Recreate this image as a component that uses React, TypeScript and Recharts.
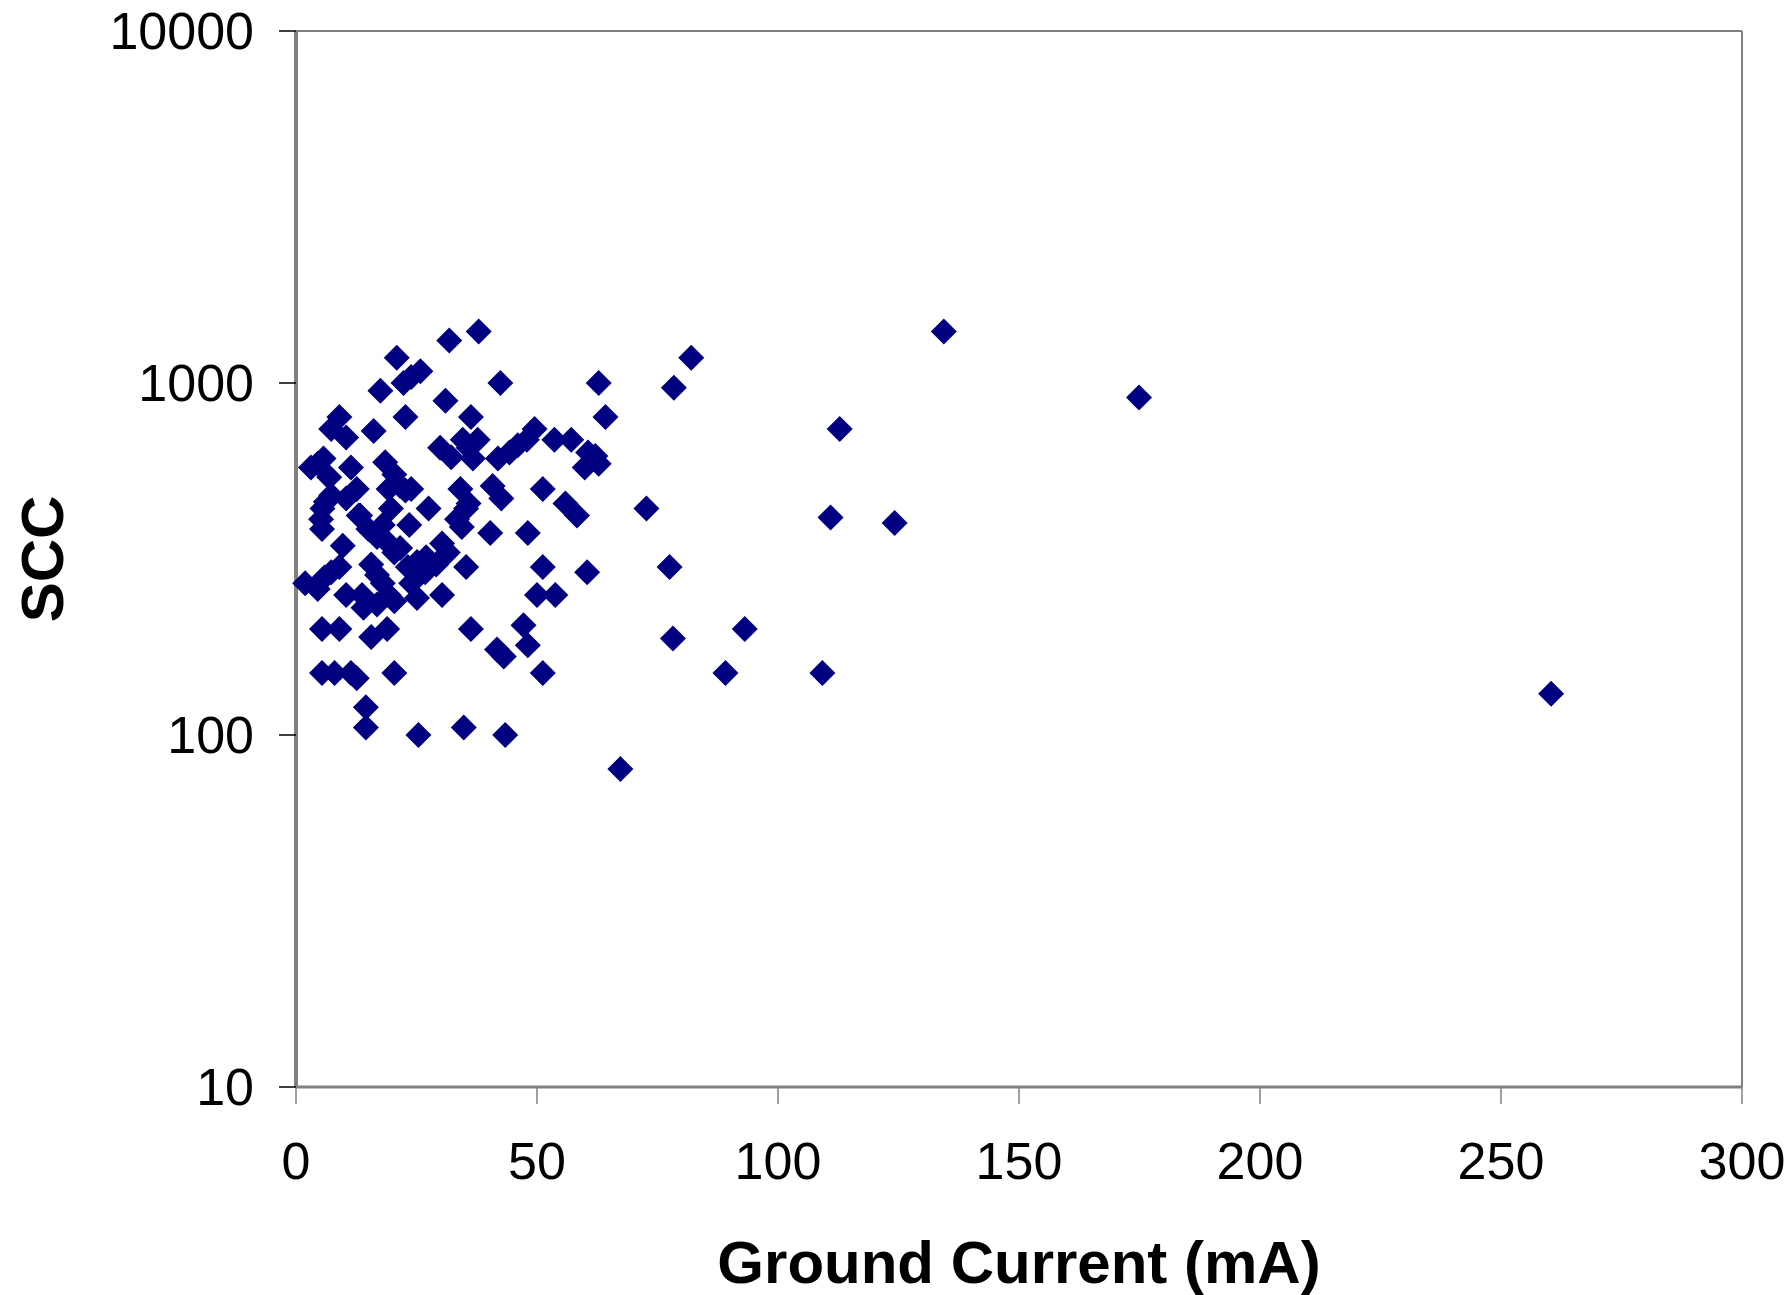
import React from "react";
import {
  ScatterChart,
  Scatter,
  XAxis,
  YAxis,
  ReferenceLine,
} from "recharts";

// ground current (mA) and SCC for each sample
const groundCurrent = [
  1.9, 3.1, 4.5, 5.7, 6.9, 5.2, 5.5, 6.2, 7.3, 5.4, 4.5, 5.9, 7.3, 9.0, 5.4, 9.0,
  5.4, 8.0, 11.4, 12.6, 7.3, 9.0, 10.4, 9.7, 11.4, 10.4, 12.6, 13.7, 10.4, 14.0,
  14.5, 14.5, 15.6, 13.3, 15.0, 16.1, 17.5, 20.9, 22.3, 23.9, 25.8, 22.7, 31.0,
  31.8, 37.9, 42.4, 36.3, 18.5, 20.4, 19.2, 21.6, 22.7, 19.7, 18.0, 16.8, 19.2,
  20.4, 21.6, 15.6, 16.8, 18.0, 19.2, 20.4, 16.8, 18.9, 20.4, 23.2, 25.1, 23.9,
  25.1, 27.5, 23.5, 23.9, 29.9, 32.2, 34.6, 35.8, 36.7, 37.7, 34.1, 35.8, 33.4,
  34.4, 35.3, 30.3, 31.5, 29.1, 26.8, 30.3, 35.3, 36.3, 34.8, 25.4, 43.4, 40.3,
  40.8, 42.6, 41.9, 44.3, 46.0, 47.9, 49.5, 48.1, 51.2, 51.2, 50.0, 53.8, 47.2,
  48.1, 43.1, 41.7, 51.2, 53.6, 57.1, 55.9, 58.3, 59.9, 60.6, 62.1, 62.8, 60.4,
  62.8, 64.2, 67.3, 72.7, 77.5, 78.2, 78.4, 82.0, 89.1, 93.1, 109.2, 110.9,
  112.8, 124.2, 134.4, 174.9, 260.4, 27.0, 13.0,
];
const scc = [
  270, 575, 590, 610, 540, 410, 440, 460, 480, 385, 260, 280, 290, 300, 200, 200,
  150, 150, 150, 145, 740, 800, 700, 345, 575, 470, 500, 250, 250, 230, 120, 105,
  190, 420, 385, 730, 950, 1180, 1000, 1040, 1080, 800, 890, 1320, 1400, 1000,
  800, 595, 550, 500, 510, 495, 440, 395, 365, 350, 330, 340, 305, 285, 270, 250,
  240, 235, 200, 150, 300, 310, 270, 245, 440, 395, 500, 655, 615, 690, 655, 610,
  690, 500, 455, 410, 390, 440, 350, 330, 305, 290, 250, 300, 200, 105, 100, 100,
  375, 510, 470, 610, 635, 665, 690, 740, 375, 500, 300, 250, 250, 205, 180, 167,
  175, 150, 690, 690, 455, 420, 575, 635, 620, 590, 290, 1000, 800, 80, 440, 300,
  188, 970, 1180, 150, 200, 150, 415, 740, 400, 1400, 910, 131, 320, 420,
];
const xTicks = [0, 50, 100, 150, 200, 250, 300];
const yTicks = [10, 100, 1000, 10000];

const points = groundCurrent.map((g, i) => ({ g, scc: scc[i] }));

const FONT = "'Liberation Sans', Arial, sans-serif";

const Diamond = (props: any) => {
  const { cx, cy } = props;
  const r = 13;
  return (
    <polygon
      points={`${cx},${cy - r} ${cx + r},${cy} ${cx},${cy + r} ${cx - r},${cy}`}
      fill="#000080"
    />
  );
};

const XTick = (props: any) => {
  const { x, y, payload } = props;
  return (
    <text x={x} y={y + 59} textAnchor="middle" dominantBaseline="middle"
      fontFamily={FONT} fontSize={52} fill="#000">
      {payload.value}
    </text>
  );
};

const YTick = (props: any) => {
  const { y, payload } = props;
  return (
    <text x={254} y={y} textAnchor="end" dominantBaseline="central"
      fontFamily={FONT} fontSize={52} fill="#000">
      {payload.value}
    </text>
  );
};

const XTitle = (props: any) => {
  const { viewBox } = props;
  return (
    <text x={viewBox.x + viewBox.width / 2} y={1283} textAnchor="middle"
      fontFamily={FONT} fontSize={60} fontWeight="bold" fill="#000">
      Ground Current (mA)
    </text>
  );
};

const YTitle = (props: any) => {
  const { viewBox } = props;
  const cy = viewBox.y + viewBox.height / 2;
  return (
    <text x={42} y={cy} textAnchor="middle" dominantBaseline="central"
      transform={`rotate(-90, 42, ${cy})`}
      fontFamily={FONT} fontSize={60} fontWeight="bold" fill="#000">
      SCC
    </text>
  );
};

export default function App() {
  return (
    <div style={{ position: "absolute", left: 0, top: 0, width: 1791, height: 1295, background: "#fff" }}>
      <ScatterChart
        width={1791}
        height={1295}
        margin={{ top: 31, right: 49, bottom: 0, left: 0 }}
      >
        <XAxis
          type="number"
          dataKey="g"
          domain={[0, 300]}
          ticks={xTicks}
          interval={0}
          height={208}
          axisLine={{ stroke: "#808080", strokeWidth: 3 }}
          tickLine={{ stroke: "#808080", strokeWidth: 1.5 }}
          tickSize={17}
          tick={<XTick />}
          label={<XTitle />}
        />
        <YAxis
          type="number"
          dataKey="scc"
          scale="log"
          domain={[10, 10000]}
          ticks={yTicks}
          interval={0}
          allowDataOverflow
          width={296}
          axisLine={{ stroke: "#808080", strokeWidth: 4 }}
          tickLine={{ stroke: "#000", strokeWidth: 1.5 }}
          tickSize={17}
          tick={<YTick />}
          label={<YTitle />}
        />
        <ReferenceLine y={10000} stroke="#808080" strokeWidth={2} />
        <ReferenceLine x={300} stroke="#808080" strokeWidth={2} />
        <Scatter data={points} shape={<Diamond />} isAnimationActive={false} />
      </ScatterChart>
    </div>
  );
}
